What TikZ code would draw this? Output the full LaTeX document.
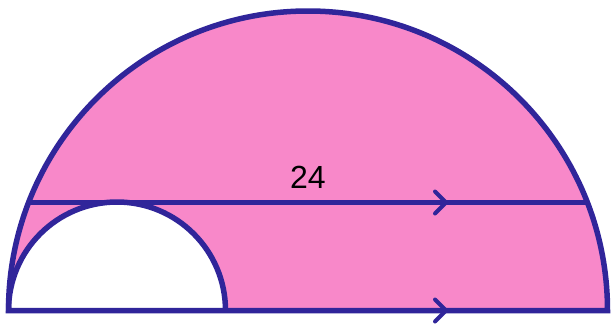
\documentclass[tikz,border=0pt]{standalone}
\usepackage{fontspec}
\setmainfont{Liberation Sans}
\definecolor{pinkfill}{HTML}{F888C9}
\definecolor{navy}{HTML}{30259A}
\begin{document}
\begin{tikzpicture}[x=1pt,y=1pt,
  edge/.style={draw=navy,line width=5.5pt},
  chev/.style={draw=navy,line width=4pt,line cap=round,line join=round}]
\useasboundingbox (0,0) rectangle (611,325);
\coordinate (L) at (8.5,14.5);
\coordinate (R) at (607.5,14.5);
\coordinate (SR) at (225.5,14.5);
\coordinate (CL) at (28.65,122.5);
\coordinate (CR) at (587.35,122.5);
% fills
\fill[pinkfill] (L) arc[start angle=180,end angle=0,radius=299.5] -- cycle;
\fill[white] (L) arc[start angle=180,end angle=0,radius=108.5] -- cycle;
% strokes
\draw[edge] (CL) -- (CR);
\draw[edge] (L) arc[start angle=180,end angle=0,radius=108.5];
\draw[edge,line join=miter] (L) arc[start angle=180,end angle=0,radius=299.5] -- cycle;
% parallel marks
\coordinate (t1) at (446,122.5);
\coordinate (t2) at (446,14.5);
\draw[chev] ([shift={(-11,11)}]t1) -- (t1) -- ([shift={(-11,-11)}]t1);
\draw[chev] ([shift={(-11,11)}]t2) -- (t2) -- ([shift={(-11,-11)}]t2);
% label
\node[inner sep=0pt,font=\fontsize{32}{36}\selectfont] (lbl) at (308,147.5) {24};
\end{tikzpicture}
\end{document}
